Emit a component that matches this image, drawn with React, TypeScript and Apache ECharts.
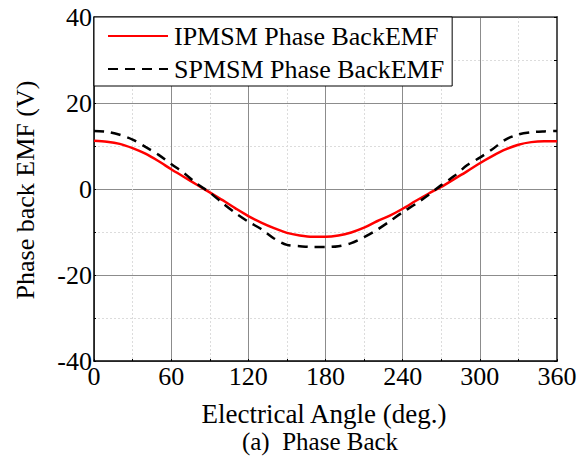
import React, { useEffect, useRef } from "react";
import * as echarts from "echarts";

const angles = [0, 10, 20, 30, 40, 50, 60, 70, 80, 90, 100, 110, 120, 130, 140, 150, 160, 170, 180, 190, 200, 210, 220, 230, 240, 250, 260, 270, 280, 290, 300, 310, 320, 330, 340, 350, 360];

const ipmsm = [11.2, 11.0, 10.5, 9.5, 8.2, 6.5, 4.6, 2.8, 1.0, -0.8, -2.6, -4.5, -6.3, -7.8, -9.1, -10.2, -10.8, -11.1, -11.1, -10.8, -10.1, -9.0, -7.5, -6.2, -4.6, -2.8, -1.1, 0.5, 2.3, 4.1, 6.0, 7.7, 9.2, 10.3, 10.9, 11.1, 11.1];

const spmsm = [13.5, 13.3, 12.6, 11.5, 9.8, 8.0, 5.8, 3.7, 1.2, -0.8, -3.3, -5.6, -7.6, -9.3, -11.5, -13.0, -13.3, -13.5, -13.5, -13.3, -12.6, -11.2, -9.5, -7.5, -5.4, -3.5, -1.4, 0.9, 3.0, 5.5, 7.3, 9.3, 11.5, 12.7, 13.2, 13.4, 13.5];

const seriesNames = ["IPMSM Phase BackEMF", "SPMSM Phase BackEMF"];
const xTitle = "Electrical Angle (deg.)";
const yTitle = "Phase back EMF (V)";
const caption = "(a)  Phase Back";

const FONT = "Liberation Serif";

export default function App() {
  const ref = useRef<HTMLDivElement>(null);
  useEffect(() => {
    if (!ref.current) return;
    const chart = echarts.init(ref.current, null, { renderer: "svg" });
    const gridLines = {
      show: true,
      lineStyle: { color: "#8c8c8c", width: 1 },
    };
    const minorLines = {
      show: true,
      lineStyle: { color: "#dcdcdc", width: 1, type: [2, 2] },
    };
    chart.setOption({
      animation: false,
      backgroundColor: "#ffffff",
      grid: { left: 94, right: 29, top: 17, bottom: 96, containLabel: false },
      xAxis: [
        {
          type: "value",
          min: 0,
          max: 360,
          interval: 60,
          position: "bottom",
          axisLine: { show: true, onZero: false, lineStyle: { color: "#000", width: 1.5 } },
          axisTick: { show: true, inside: true, length: 2, lineStyle: { color: "#000" } },
          minorTick: { show: true, splitNumber: 2, length: 2, lineStyle: { color: "#000" } },
          axisLabel: { color: "#000", fontFamily: FONT, fontSize: 26, margin: 2, showMinLabel: true, showMaxLabel: true },
          splitLine: gridLines,
          minorSplitLine: minorLines,
        },
        {
          type: "value",
          min: 0,
          max: 360,
          interval: 60,
          position: "top",
          axisLine: { show: true, onZero: false, lineStyle: { color: "#444", width: 1.5 } },
          axisTick: { show: false },
          axisLabel: { show: false },
          splitLine: { show: false },
        },
      ],
      yAxis: [
        {
          type: "value",
          min: -40,
          max: 40,
          interval: 20,
          position: "left",
          axisLine: { show: true, onZero: false, lineStyle: { color: "#000", width: 1.5 } },
          axisTick: { show: true, inside: true, length: 2, lineStyle: { color: "#000" } },
          minorTick: { show: true, splitNumber: 2, length: 2, lineStyle: { color: "#000" } },
          axisLabel: { color: "#000", fontFamily: FONT, fontSize: 26, margin: 2, showMinLabel: true, showMaxLabel: true },
          splitLine: gridLines,
          minorSplitLine: minorLines,
        },
        {
          type: "value",
          min: -40,
          max: 40,
          interval: 20,
          position: "right",
          axisLine: { show: true, onZero: false, lineStyle: { color: "#555", width: 2 } },
          axisTick: { show: true, inside: true, length: 3, lineStyle: { color: "#000" } },
          minorTick: { show: true, splitNumber: 2, length: 3, lineStyle: { color: "#000" } },
          axisLabel: { show: false },
          splitLine: { show: false },
        },
      ],
      legend: {
        show: true,
        orient: "vertical",
        left: 94,
        top: 17,
        width: 360,
        padding: [6, 8, 4, 13],
        itemGap: 7,
        itemWidth: 60,
        itemHeight: 14,
        backgroundColor: "#ffffff",
        borderColor: "#000",
        borderWidth: 1,
        borderRadius: 0,
        itemStyle: { color: "transparent", borderColor: "transparent", borderWidth: 0, opacity: 0 },
        textStyle: { color: "#000", fontFamily: FONT, fontSize: 26, padding: [0, 0, 0, 1] },
        data: seriesNames,
      },
      series: [
        {
          name: seriesNames[0],
          type: "line",
          data: angles.map((a, i) => [a, ipmsm[i]]),
          showSymbol: false,
          symbol: "none",
          smooth: 0.3,
          lineStyle: { color: "#ff0000", width: 2.5 },
          itemStyle: { color: "#ff0000" },
          z: 3,
        },
        {
          name: seriesNames[1],
          type: "line",
          data: angles.map((a, i) => [a, spmsm[i]]),
          showSymbol: false,
          symbol: "none",
          smooth: 0.3,
          lineStyle: { color: "#000000", width: 2.5, type: [10, 7] },
          itemStyle: { color: "#000000" },
          z: 4,
        },
      ],
      graphic: [
        {
          type: "text",
          x: 25,
          y: 190,
          rotation: Math.PI / 2,
          style: {
            text: yTitle,
            font: `26px ${FONT}`,
            fill: "#000",
            textAlign: "center",
            textVerticalAlign: "middle",
            verticalAlign: "middle",
          },
        },
        {
          type: "text",
          x: 324,
          y: 414,
          style: {
            text: xTitle,
            font: `27px ${FONT}`,
            fill: "#000",
            textAlign: "center",
            textVerticalAlign: "middle",
            verticalAlign: "middle",
          },
        },
        {
          type: "text",
          x: 320,
          y: 441,
          style: {
            text: caption,
            font: `25px ${FONT}`,
            fill: "#000",
            textAlign: "center",
            textVerticalAlign: "middle",
            verticalAlign: "middle",
          },
        },
      ],
    });
    return () => chart.dispose();
  }, []);
  return (
    <div
      ref={ref}
      style={{ position: "fixed", left: 0, top: 0, width: 586, height: 457 }}
    />
  );
}
